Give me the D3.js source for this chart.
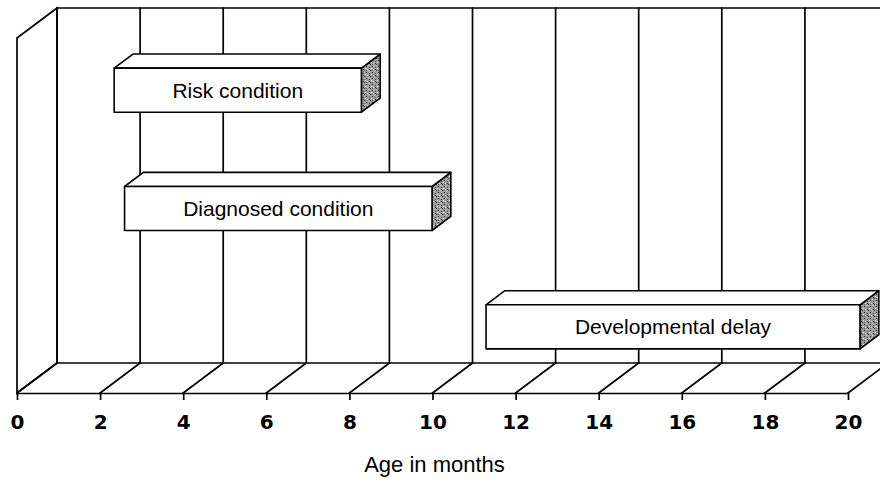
<!DOCTYPE html>
<html>
<head>
<meta charset="utf-8">
<script src="https://cdn.jsdelivr.net/npm/d3@7"></script>
<style>
  html, body { margin: 0; padding: 0; background: #fff; }
  svg { display: block; }
</style>
</head>
<body>
<svg id="chart" width="880" height="492"></svg>
<script>
// Age ranges (months) for each condition, bottom row first
const categories = ["Developmental delay", "Diagnosed condition", "Risk condition"];
const startMonths = [11, 2.3, 2.05];
const endMonths = [20, 9.7, 8];
const tickValues = [0, 2, 4, 6, 8, 10, 12, 14, 16, 18, 20];
const axisTitle = "Age in months";

const svg = d3.select("#chart");

// Oblique 3D projection: depth z in [0,1] shifts right and up
const DX = 40, DY = 30;
const floorY = 393, wallTop = 38;
const x = d3.scaleLinear().domain([0, 20]).range([17, 848]);
const y = d3.scaleBand().domain(categories).range([floorY + 2, wallTop + 2])
  .paddingInner(0.628).paddingOuter(0.314);
const proj = (v, z, yy) => [x(v) + z * DX, yy - z * DY];
const line = d3.line();

// Speckled texture for the bar end faces
const defs = svg.append("defs");
const pat = defs.append("pattern").attr("id", "speckle")
  .attr("patternUnits", "userSpaceOnUse").attr("width", 6).attr("height", 6);
pat.append("rect").attr("width", 6).attr("height", 6).attr("fill", "#9a9a9a");
[[0,0,"#333"],[3,1,"#555"],[1,3,"#ddd"],[4,4,"#444"],[2,5,"#c8c8c8"],[5,2,"#eee"],[0,4,"#666"],[3,3,"#2a2a2a"]]
  .forEach(([px, py, c]) => pat.append("rect").attr("x", px).attr("y", py)
    .attr("width", 1).attr("height", 1).attr("fill", c));

const frame = svg.append("g").attr("fill", "none").attr("stroke", "#000")
  .attr("stroke-width", 1.7).attr("stroke-linecap", "square");

// Left side wall
frame.append("path").attr("fill", "#fff").attr("d", line([
  proj(0, 0, floorY), proj(0, 0, wallTop), proj(0, 1, wallTop), proj(0, 1, floorY)
]) + "Z");

// Back wall top edge and vertical gridlines
frame.append("path").attr("d", line([proj(0, 1, wallTop), proj(20, 1, wallTop)]));
frame.selectAll(".grid").data(tickValues).join("path").attr("class", "grid")
  .attr("d", v => line([proj(v, 1, wallTop), proj(v, 1, floorY)]));

// Floor: back edge and depth lines at each tick
frame.append("path").attr("d", line([proj(0, 1, floorY), proj(20, 1, floorY)]));
frame.selectAll(".floor").data(tickValues).join("path").attr("class", "floor")
  .attr("d", v => line([proj(v, 0, floorY), proj(v, 1, floorY)]));

// Front value axis
const axis = svg.append("g").attr("transform", `translate(0,${floorY})`)
  .call(d3.axisBottom(x).tickValues(tickValues).tickSizeInner(7).tickSizeOuter(0)
    .tickPadding(15).tickFormat(d3.format("d")));
axis.select(".domain").attr("stroke", "#000").attr("stroke-width", 1.7);
axis.selectAll(".tick line").attr("stroke", "#000").attr("stroke-width", 1.7);
axis.selectAll(".tick text")
  .attr("font-family", "'DejaVu Sans', Verdana, sans-serif")
  .attr("font-weight", "bold").attr("font-size", "20px").attr("fill", "#000");

// Floating 3D bars
const z0 = 0.3, z1 = 0.77;
const bars = svg.append("g").attr("stroke", "#000").attr("stroke-width", 1.6)
  .attr("stroke-linejoin", "round");
categories.forEach((cat, i) => {
  const v0 = startMonths[i], v1 = endMonths[i];
  const yt = y(cat), yb = yt + y.bandwidth();
  const g = bars.append("g");
  g.append("path").attr("fill", "url(#speckle)").attr("d", line([
    proj(v1, z0, yt), proj(v1, z1, yt), proj(v1, z1, yb), proj(v1, z0, yb)
  ]) + "Z");
  g.append("path").attr("fill", "#fff").attr("d", line([
    proj(v0, z0, yt), proj(v1, z0, yt), proj(v1, z1, yt), proj(v0, z1, yt)
  ]) + "Z");
  g.append("path").attr("fill", "#fff").attr("d", line([
    proj(v0, z0, yt), proj(v1, z0, yt), proj(v1, z0, yb), proj(v0, z0, yb)
  ]) + "Z");
  const [cx] = proj((v0 + v1) / 2, z0, yt);
  const cy = (proj(v0, z0, yt)[1] + proj(v0, z0, yb)[1]) / 2;
  g.append("text").attr("x", cx).attr("y", cy).attr("dy", "0.36em")
    .attr("text-anchor", "middle").attr("stroke", "none").attr("fill", "#000")
    .attr("font-family", "'Liberation Sans', Arial, sans-serif").attr("font-size", "21px")
    .text(cat);
});

// Axis title
svg.append("text").attr("x", (x(0) + x(20)) / 2 + 2).attr("y", 472)
  .attr("text-anchor", "middle").attr("fill", "#000")
  .attr("font-family", "'Liberation Sans', Arial, sans-serif").attr("font-size", "22px")
  .text(axisTitle);
</script>
</body>
</html>
